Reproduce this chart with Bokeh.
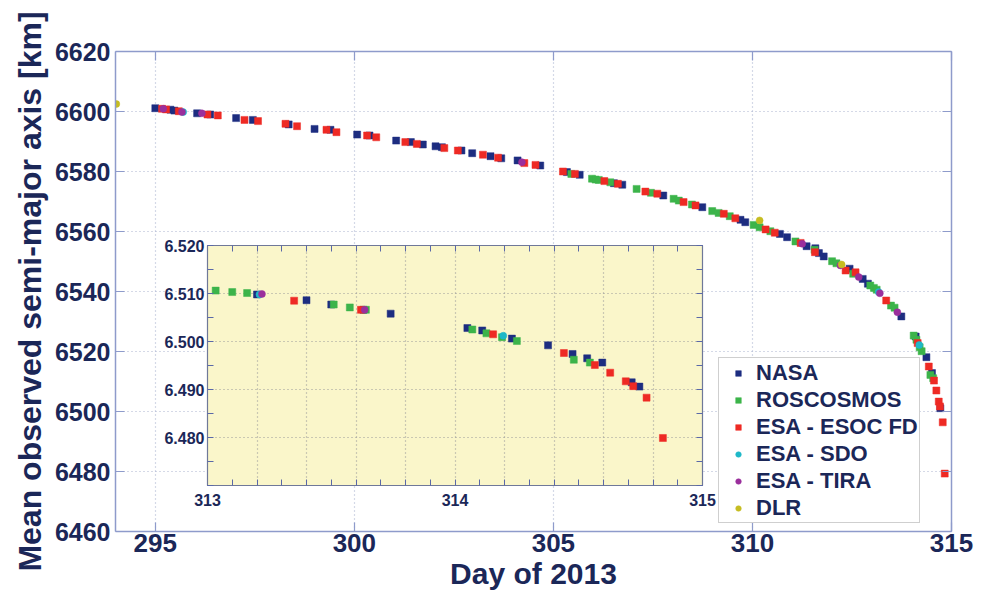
from bokeh.plotting import figure
from bokeh.models import (Legend, LegendItem, LinearAxis, FixedTicker,
                          PrintfTickFormatter, Range1d)
from bokeh.layouts import column
from bokeh.embed import file_html
from bokeh.resources import INLINE

# ---------------- data: main plot (day of 2013, mean semi-major axis in km) -------------
nasa_day = [295.0, 295.38, 295.48, 296.05, 296.38, 297.03, 297.45, 298.35, 299.0, 299.40,
            300.07, 300.38, 301.05, 301.42, 301.72, 302.04, 302.20, 302.69, 302.96, 303.42,
            303.69, 304.10, 304.67, 305.34, 305.66, 306.52, 306.73, 307.76, 308.74, 309.70,
            309.82, 310.69, 310.87, 311.36, 311.58, 311.67, 311.79, 312.44, 312.77, 312.90,
            313.74, 314.10, 314.37, 314.51, 314.72]
nasa_sma = [6601.1, 6600.6, 6600.3, 6599.4, 6599.0, 6597.8, 6597.2, 6595.7, 6594.2, 6593.9,
            6592.3, 6592.0, 6590.3, 6589.8, 6589.0, 6588.4, 6588.1, 6587.0, 6586.1, 6585.1,
            6584.4, 6583.7, 6582.0, 6579.8, 6578.9, 6576.1, 6575.6, 6572.0, 6568.1, 6563.9,
            6563.1, 6559.2, 6558.1, 6555.1, 6554.4, 6552.8, 6551.7, 6547.6, 6544.2, 6542.6,
            6531.7, 6525.0, 6518.1, 6512.8, 6501.1]

ros_day = [305.45, 305.97, 306.06, 306.14, 306.43, 307.09, 307.45, 308.02, 308.15, 308.48,
           308.99, 309.15, 309.43, 310.03, 310.18, 310.45, 311.08, 311.56, 312.00, 312.11,
           312.53, 312.96, 313.05, 313.12, 313.48, 313.57, 314.05, 314.12, 314.20, 314.25,
           314.47, 314.54]
ros_sma = [6579.2, 6577.6, 6577.3, 6577.2, 6576.4, 6574.2, 6572.9, 6570.9, 6570.3, 6569.0,
           6566.8, 6566.2, 6565.1, 6562.2, 6561.4, 6560.1, 6556.7, 6553.9, 6550.1, 6549.4,
           6545.9, 6542.0, 6541.2, 6540.6, 6535.3, 6534.6, 6525.3, 6523.9, 6521.4, 6520.1,
           6512.2, 6511.1]

esoc_day = [295.17, 295.27, 295.59, 296.31, 296.57, 297.24, 297.58, 298.27, 298.56, 299.30,
            299.55, 300.32, 300.55, 301.28, 301.57, 302.26, 302.60, 303.23, 303.61, 304.27,
            304.55, 305.24, 305.54, 306.28, 306.62, 307.31, 307.61, 308.27, 308.57, 309.28,
            309.57, 310.33, 310.56, 311.21, 311.57, 312.34, 312.59, 313.36, 314.15, 314.43,
            314.56, 314.62, 314.68, 314.71, 314.78, 314.83]
esoc_sma = [6600.9, 6600.7, 6600.1, 6599.0, 6598.7, 6597.2, 6596.8, 6595.9, 6595.1, 6593.9,
            6593.1, 6592.0, 6591.4, 6589.8, 6589.2, 6587.8, 6587.0, 6585.6, 6584.6, 6582.8,
            6582.2, 6580.0, 6579.2, 6576.8, 6575.9, 6573.3, 6572.6, 6569.8, 6568.7, 6565.9,
            6564.4, 6560.7, 6559.6, 6556.2, 6553.1, 6547.0, 6546.4, 6537.0, 6522.8, 6515.0,
            6510.3, 6507.0, 6503.3, 6501.7, 6496.4, 6479.3]

sdo_day = [295.70, 313.17, 314.19]
sdo_sma = [6599.8, 6539.8, 6522.2]

tira_day = [295.20, 295.67, 296.17, 304.21, 311.25, 312.21, 312.67, 313.20, 313.64]
tira_sma = [6600.9, 6599.8, 6599.4, 6583.1, 6555.9, 6548.7, 6544.8, 6539.4, 6533.1]

dlr_day = [294.02, 310.18, 312.24]
dlr_sma = [6602.5, 6563.7, 6549.0]

x_ticks = [295, 300, 305, 310, 315]
y_ticks = [6460, 6480, 6500, 6520, 6540, 6560, 6580, 6600, 6620]

# ---------------- data: inset (thousand km) ----------------
in_nasa_day = [313.20, 313.40, 313.50, 313.63, 313.74, 314.05, 314.11, 314.23, 314.376,
               314.475, 314.534, 314.595, 314.714, 314.745]
in_nasa_sma = [6.5098, 6.5086, 6.5077, 6.5066, 6.5058, 6.5028, 6.5023, 6.5006, 6.4992,
               6.4974, 6.4965, 6.4956, 6.4915, 6.4906]
in_ros_day = [313.033, 313.10, 313.16, 313.51, 313.575, 313.64, 314.07, 314.127, 314.19,
              314.25, 314.48, 314.545]
in_ros_sma = [6.5106, 6.5103, 6.5101, 6.5077, 6.5071, 6.5066, 6.5025, 6.5017, 6.5009,
              6.5001, 6.4962, 6.4956]
in_esoc_day = [313.35, 313.62, 314.154, 314.44, 314.565, 314.627, 314.69, 314.72, 314.774,
               314.84]
in_esoc_sma = [6.5085, 6.5066, 6.5015, 6.4976, 6.4951, 6.4935, 6.4917, 6.4907, 6.4883,
               6.4799]
in_sdo_day = [313.21, 314.195]
in_sdo_sma = [6.5098, 6.5012]
in_tira_day = [313.22, 313.635]
in_tira_sma = [6.5099, 6.5066]

in_x_ticks = [313, 314, 315]
in_x_minor = [313.1, 313.2, 313.3, 313.4, 313.5, 313.6, 313.7, 313.8, 313.9,
              314.1, 314.2, 314.3, 314.4, 314.5, 314.6, 314.7, 314.8, 314.9]
in_x_grid = [313.2, 313.4, 313.6, 313.8, 314.0, 314.2, 314.4, 314.6, 314.8]
in_y_ticks = [6.48, 6.49, 6.50, 6.51, 6.52]
in_y_minor = [6.47, 6.475, 6.485, 6.495, 6.505, 6.515]
in_y_grid = [6.48, 6.49, 6.50, 6.51]

names = ["NASA", "ROSCOSMOS", "ESA - ESOC FD", "ESA - SDO", "ESA - TIRA", "DLR"]
colors = ["#1d2d80", "#3cb44a", "#ee2a24", "#1fb8c8", "#9a2f9c", "#c6bd22"]
markers = ["square", "square", "square", "circle", "circle", "circle"]

FONT = "Liberation Sans"
TXT = "#1b2758"
AXC = "#8e9bcb"
GRID = "#aab3cf"

BL, BR = 115, 37   # shared left/right borders (column aligns them)

# ---------------- main figure ----------------
p = figure(width=988, height=593, x_range=Range1d(294, 315), y_range=Range1d(6460, 6620),
           output_backend="svg", toolbar_location=None,
           min_border_left=BL, min_border_right=BR, min_border_top=51, min_border_bottom=62,
           outline_line_color=None, background_fill_color="white")

def style_axis(ax, ticker, fsize, show_labels=True):
    ax.ticker = ticker
    ax.axis_line_color = AXC
    ax.axis_line_width = 1.5
    ax.major_tick_line_color = AXC
    ax.major_tick_line_width = 1.2
    ax.major_tick_in = 9
    ax.major_tick_out = 0
    ax.minor_tick_in = 0
    ax.minor_tick_out = 0
    ax.major_label_text_font = FONT
    ax.major_label_text_font_style = "bold"
    if show_labels:
        ax.major_label_text_color = TXT
        ax.major_label_text_font_size = fsize
    else:
        ax.major_label_text_color = None
        ax.major_label_text_font_size = "1px"
        ax.major_label_standoff = 0

style_axis(p.xaxis[0], FixedTicker(ticks=x_ticks), "26px")
style_axis(p.yaxis[0], FixedTicker(ticks=y_ticks), "25px")
p.xaxis.major_label_standoff = 2
p.yaxis.major_label_standoff = 5
p.xaxis.axis_label = "Day of 2013"
p.yaxis.axis_label = "Mean observed semi-major axis [km]"
for ax, fs in ((p.xaxis[0], "30px"), (p.yaxis[0], "32px")):
    ax.axis_label_text_font = FONT
    ax.axis_label_text_font_style = "bold"
    ax.axis_label_text_color = TXT
    ax.axis_label_text_font_size = fs
p.xaxis.axis_label_standoff = 2
p.yaxis.axis_label_standoff = 4

ax_r = LinearAxis()
style_axis(ax_r, FixedTicker(ticks=y_ticks), "1px", show_labels=False)
p.add_layout(ax_r, "right")
ax_t = LinearAxis()
style_axis(ax_t, FixedTicker(ticks=x_ticks), "1px", show_labels=False)
p.add_layout(ax_t, "above")

p.xgrid.ticker = FixedTicker(ticks=x_ticks)
p.ygrid.ticker = FixedTicker(ticks=y_ticks)
for g in (p.xgrid[0], p.ygrid[0]):
    g.grid_line_color = GRID
    g.grid_line_dash = "1 3"
    g.grid_line_width = 1.2

series = [(nasa_day, nasa_sma), (ros_day, ros_sma), (esoc_day, esoc_sma),
          (sdo_day, sdo_sma), (tira_day, tira_sma), (dlr_day, dlr_sma)]
renderers = []
for (d, s), c, m in zip(series, colors, markers):
    r = p.scatter(d, s, marker=m, size=7, fill_color=c, line_color=c, line_width=0.5)
    renderers.append(r)

legend = Legend(items=[LegendItem(label=n, renderers=[r]) for n, r in zip(names, renderers)],
                location=(603, 8), margin=0, padding=1, spacing=0,
                glyph_width=36, glyph_height=14, label_height=27, label_standoff=0,
                label_text_font=FONT, label_text_font_style="bold",
                label_text_font_size="22px", label_text_color=TXT,
                border_line_color="#a0a0a0", border_line_width=1.5,
                background_fill_color="white", background_fill_alpha=1.0)
p.add_layout(legend)

# ---------------- inset figure ----------------
INC = "#6f7899"
q = figure(width=BL + 495 + BR, height=276, x_range=Range1d(313, 315),
           y_range=Range1d(6.47, 6.52),
           output_backend="svg", toolbar_location=None,
           min_border_left=BL, min_border_right=BR, min_border_top=6, min_border_bottom=30,
           background_fill_color="#faf6ca", border_fill_color=None,
           outline_line_color=INC, outline_line_width=1.2)
q.styles = {"position": "absolute", "left": "92px", "top": "239px"}

def style_inset_axis(ax, ticker, show_labels=True):
    ax.ticker = ticker
    ax.axis_line_color = INC
    ax.major_tick_line_color = "#5a68a8"
    ax.minor_tick_line_color = "#5a68a8"
    ax.major_tick_in = 6
    ax.major_tick_out = 0
    ax.minor_tick_in = 6
    ax.minor_tick_out = 0
    ax.major_label_text_font = FONT
    ax.major_label_text_font_style = "bold"
    if show_labels:
        ax.major_label_text_color = TXT
        ax.major_label_text_font_size = "16px"
    else:
        ax.major_label_text_color = None
        ax.major_label_text_font_size = "1px"
        ax.major_label_standoff = 0

style_inset_axis(q.xaxis[0], FixedTicker(ticks=in_x_ticks, minor_ticks=in_x_minor))
style_inset_axis(q.yaxis[0], FixedTicker(ticks=in_y_ticks, minor_ticks=in_y_minor))
q.yaxis[0].formatter = PrintfTickFormatter(format="%.3f")
q.xaxis.major_label_standoff = 8
q.yaxis.major_label_standoff = 3
qr = LinearAxis()
style_inset_axis(qr, FixedTicker(ticks=in_y_ticks, minor_ticks=in_y_minor), show_labels=False)
q.add_layout(qr, "right")
qt = LinearAxis()
style_inset_axis(qt, FixedTicker(ticks=in_x_ticks, minor_ticks=in_x_minor), show_labels=False)
q.add_layout(qt, "above")

q.xgrid.ticker = FixedTicker(ticks=in_x_grid)
q.ygrid.ticker = FixedTicker(ticks=in_y_grid)
for g in (q.xgrid[0], q.ygrid[0]):
    g.grid_line_color = "#9a9a9a"
    g.grid_line_dash = "1 3"
    g.grid_line_width = 1.2

in_series = [(in_nasa_day, in_nasa_sma), (in_ros_day, in_ros_sma), (in_esoc_day, in_esoc_sma),
             (in_sdo_day, in_sdo_sma), (in_tira_day, in_tira_sma)]
for (d, s), c, m in zip(in_series, colors, markers):
    q.scatter(d, s, marker=m, size=7, fill_color=c, line_color=c, line_width=0.5)

layout = column(p, q)
open("out.html", "w").write(file_html(layout, INLINE))
